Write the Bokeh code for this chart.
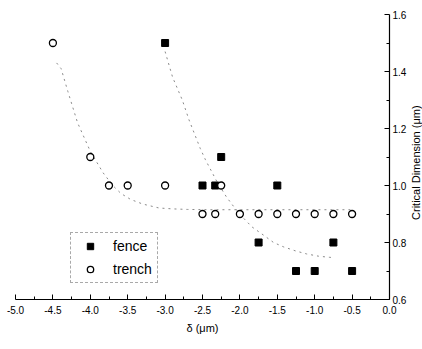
import math
from bokeh.plotting import figure
from bokeh.models import (LinearAxis, Range1d, Legend, LegendItem, FixedTicker,
                          NumeralTickFormatter, Label)
from bokeh.embed import file_html
from bokeh.resources import INLINE

# data
fence_x = [-3.0, -2.5, -2.33, -2.25, -1.5, -1.75, -0.75, -1.25, -1.0, -0.5]
fence_y = [1.5, 1.0, 1.0, 1.1, 1.0, 0.8, 0.8, 0.7, 0.7, 0.7]

trench_x = [-4.5, -4.0, -3.75, -3.5, -3.0, -2.25, -2.5, -2.33, -2.0, -1.75, -1.5, -1.25, -1.0, -0.75, -0.5]
trench_y = [1.5, 1.1, 1.0, 1.0, 1.0, 1.0, 0.9, 0.9, 0.9, 0.9, 0.9, 0.9, 0.9, 0.9, 0.9]

fit_fence_x = [-3.0, -2.9, -2.77, -2.68, -2.53, -2.46, -2.3, -2.18, -2.08, -1.95, -1.84, -1.68, -1.55, -1.42, -1.25, -1.11, -0.95, -0.8, -0.75]
fit_fence_y = [1.47, 1.38, 1.30, 1.23, 1.13, 1.09, 1.01, 0.96, 0.925, 0.885, 0.855, 0.825, 0.80, 0.785, 0.77, 0.76, 0.752, 0.748, 0.747]

fit_trench_x = [-4.45, -4.39, -4.3, -4.17, -4.0, -3.83, -3.7, -3.59, -3.46, -3.3, -3.08, -2.9, -2.7, -2.4, -2.0, -1.5, -1.0, -0.5]
fit_trench_y = [1.43, 1.41, 1.33, 1.22, 1.12, 1.045, 1.0, 0.972, 0.951, 0.935, 0.921, 0.918, 0.916, 0.915, 0.915, 0.915, 0.915, 0.915]

x_ticks = [-5.0, -4.5, -4.0, -3.5, -3.0, -2.5, -2.0, -1.5, -1.0, -0.5, 0.0]
y_ticks = [0.6, 0.8, 1.0, 1.2, 1.4, 1.6]

x_label = "\u03b4 (\u03bcm)"
y_label = "Critical Dimension (\u03bcm)"

FONT = "Liberation Sans"

# The frame fills the whole canvas; both axes are pinned at x = 0 and y = 0.6,
# so the visible plot area spans 15..389 px horizontally and 14..299 px vertically.
W, H = 422, 349
LEFT, RIGHT, TOP, BOTTOM = 15, 389, 14, 299
XPX = (RIGHT - LEFT) / (x_ticks[-1] - x_ticks[0])
YPX = (BOTTOM - TOP) / (y_ticks[-1] - y_ticks[0])
x_start = x_ticks[0] - LEFT / XPX
x_end = x_ticks[-1] + (W - RIGHT) / XPX
y_start = y_ticks[0] - (H - BOTTOM) / YPX
y_end = y_ticks[-1] + TOP / YPX

p = figure(width=W, height=H, output_backend="svg", toolbar_location=None,
           x_range=Range1d(x_start, x_end), y_range=Range1d(y_start, y_end),
           x_axis_location=None, y_axis_location=None,
           min_border_left=0, min_border_top=0, min_border_right=0, min_border_bottom=0)
p.min_border = 0
p.outline_line_color = None
p.grid.visible = False
p.background_fill_color = "white"
p.border_fill_color = "white"

xax = LinearAxis(fixed_location=y_ticks[0], axis_label=x_label)
yax = LinearAxis(fixed_location=x_ticks[-1])
p.add_layout(xax, "below")
p.add_layout(yax, "right")

for ax, ticks in ((xax, x_ticks), (yax, y_ticks)):
    ax.ticker = FixedTicker(ticks=ticks,
                            minor_ticks=[t + (ticks[1] - ticks[0]) / 2 for t in ticks[:-1]])
    ax.formatter = NumeralTickFormatter(format="0.0")
    ax.bounds = (ticks[0], ticks[-1])
    ax.major_tick_in = 5
    ax.major_tick_out = 0
    ax.minor_tick_in = 3
    ax.minor_tick_out = 0
    ax.axis_line_color = "black"
    ax.axis_line_width = 1.2
    ax.major_tick_line_color = "black"
    ax.minor_tick_line_color = "black"
    ax.major_label_text_font = FONT
    ax.major_label_text_font_size = "10px"
    ax.major_label_text_color = "black"
    ax.axis_label_text_font = FONT
    ax.axis_label_text_font_size = "11px"
    ax.axis_label_text_font_style = "normal"
    ax.axis_label_text_color = "black"
    ax.major_label_standoff = 3

xax.major_label_standoff = 6
xax.axis_label_standoff = 5

# right-side axis title, reading bottom to top, 26px right of the y axis
p.add_layout(Label(x=x_ticks[-1] + 26 / XPX, y=1.08, text=y_label, angle=math.pi / 2,
                   text_align="center", text_baseline="middle",
                   text_font=FONT, text_font_size="11px", text_color="black"))

p.line(fit_fence_x, fit_fence_y, line_color="#8a8a8a", line_width=1, line_dash="2 4")
p.line(fit_trench_x, fit_trench_y, line_color="#8a8a8a", line_width=1, line_dash="2 4")

r_f = p.scatter(fence_x, fence_y, marker="square", size=7, fill_color="black", line_color="black")
r_t = p.scatter(trench_x, trench_y, marker="circle", size=7, fill_color="white",
                line_color="black", line_width=1.3)

legend = Legend(items=[LegendItem(label="fence", renderers=[r_f]),
                       LegendItem(label="trench", renderers=[r_t])],
                location=(70, H - 283))
legend.label_text_font = FONT
legend.label_text_font_size = "14px"
legend.label_text_color = "black"
legend.glyph_width = 28
legend.glyph_height = 16
legend.padding = 5
legend.spacing = 7
legend.label_standoff = 9
legend.margin = 0
legend.border_line_color = "#555555"
legend.border_line_dash = "3 2"
legend.border_line_width = 1
legend.background_fill_alpha = 0
p.add_layout(legend, "center")

open("out.html", "w").write(file_html(p, INLINE))
